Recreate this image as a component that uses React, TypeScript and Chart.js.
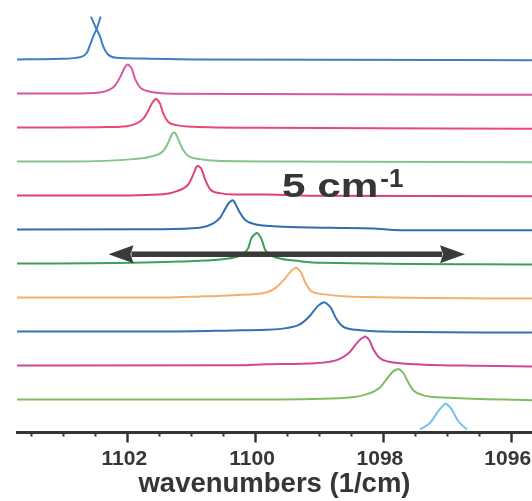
import React, { useEffect, useRef } from "react";
import { Chart, registerables } from "chart.js";

Chart.register(...registerables);

// ---- axis data ----
const X_MIN = 1095.667;
const X_MAX = 1103.726;
const majorTicks = [1096, 1098, 1100, 1102];
const minorTicks = [1096.5, 1097, 1097.5, 1098.5, 1099, 1099.5, 1100.5, 1101, 1101.5, 1102.5, 1103, 1103.5];
const axisTitle = "wavenumbers (1/cm)";

// ---- stacked spectra: [wavenumber, intensity above own baseline] ----
const offsets = [11, 10, 9, 8, 7, 6, 5, 4, 3, 2, 1, 0];

const trace1a = [[1103.726, 0], [1103.05, 0.02], [1102.74, 0.07], [1102.635, 0.19], [1102.573, 0.48], [1102.521, 0.73], [1102.482, 0.89], [1102.416, 1.26]];
const trace1b = [[1102.568, 1.26], [1102.482, 0.89], [1102.427, 0.68], [1102.376, 0.38], [1102.297, 0.14], [1102.166, 0.05], [1101.8, 0.03], [1100.862, 0], [1095.667, -0.02]];
const trace2 = [[1103.726, 0], [1102.9, 0], [1102.43, 0.03], [1102.27, 0.12], [1102.19, 0.24], [1102.11, 0.49], [1102.05, 0.73], [1102.019, 0.82], [1101.994, 0.85], [1101.969, 0.82], [1101.93, 0.73], [1101.88, 0.44], [1101.8, 0.18], [1101.7, 0.08], [1101.54, 0.02], [1101.28, -0.01], [1095.667, -0.04]];
const trace3 = [[1103.726, 0], [1103.05, 0], [1102.43, 0.01], [1102.009, 0.04], [1101.853, 0.12], [1101.75, 0.26], [1101.671, 0.5], [1101.618, 0.7], [1101.576, 0.81], [1101.551, 0.84], [1101.526, 0.81], [1101.488, 0.7], [1101.437, 0.41], [1101.358, 0.16], [1101.227, 0.07], [1100.967, 0.02], [1099.9, -0.01], [1095.667, -0.04]];
const trace4 = [[1103.726, 0], [1102.9, 0], [1101.906, 0.07], [1101.593, 0.16], [1101.437, 0.31], [1101.358, 0.56], [1101.316, 0.75], [1101.294, 0.82], [1101.269, 0.85], [1101.244, 0.82], [1101.202, 0.65], [1101.133, 0.36], [1101.045, 0.16], [1100.862, 0.07], [1100.601, 0.02], [1099.7, 0], [1095.667, -0.02]];
const trace5 = [[1103.726, 0], [1102.4, 0], [1101.431, 0.04], [1101.222, 0.13], [1101.045, 0.33], [1100.977, 0.58], [1100.936, 0.77], [1100.919, 0.84], [1100.894, 0.87], [1100.869, 0.84], [1100.836, 0.77], [1100.784, 0.48], [1100.706, 0.19], [1100.549, 0.07], [1100.346, 0.03], [1099.83, 0.03], [1099.0, -0.01], [1095.667, -0.02]];
const trace6 = [[1103.726, 0], [1101.5, 0.01], [1100.862, 0.05], [1100.654, 0.18], [1100.549, 0.34], [1100.473, 0.59], [1100.419, 0.76], [1100.382, 0.83], [1100.357, 0.86], [1100.332, 0.83], [1100.315, 0.78], [1100.237, 0.49], [1100.159, 0.29], [1100.028, 0.17], [1099.767, 0.1], [1099.349, 0.07], [1098.828, 0.05], [1098.155, 0.03], [1097.73, -0.02], [1095.667, -0.02]];
const trace7 = [[1103.726, 0], [1101.931, 0.02], [1101.175, 0.06], [1100.549, 0.12], [1100.288, 0.2], [1100.174, 0.3], [1100.106, 0.46], [1100.064, 0.72], [1100.0, 0.87], [1099.975, 0.9], [1099.95, 0.87], [1099.897, 0.7], [1099.845, 0.41], [1099.767, 0.26], [1099.662, 0.17], [1099.297, 0.07], [1098.937, 0.02], [1095.667, -0.03]];
const trace8 = [[1103.726, 0], [1101.383, 0], [1100.862, 0.03], [1100.341, 0.07], [1099.829, 0.15], [1099.673, 0.29], [1099.516, 0.59], [1099.438, 0.78], [1099.385, 0.85], [1099.36, 0.88], [1099.335, 0.85], [1099.282, 0.74], [1099.214, 0.44], [1099.125, 0.19], [1098.942, 0.1], [1098.473, 0.02], [1095.667, -0.03]];
const trace9 = [[1103.726, 0], [1101.383, 0], [1100.346, 0.03], [1099.829, 0.05], [1099.516, 0.1], [1099.308, 0.2], [1099.152, 0.44], [1099.047, 0.69], [1098.984, 0.8], [1098.942, 0.845], [1098.917, 0.86], [1098.892, 0.84], [1098.812, 0.69], [1098.734, 0.39], [1098.629, 0.15], [1098.421, 0.05], [1098.003, 0], [1095.667, -0.03]];
const trace10 = [[1103.726, 0], [1100.236, 0.01], [1099.829, 0.04], [1099.047, 0.07], [1098.682, 0.19], [1098.526, 0.38], [1098.421, 0.63], [1098.343, 0.79], [1098.305, 0.83], [1098.28, 0.85], [1098.255, 0.83], [1098.213, 0.75], [1098.15, 0.48], [1098.056, 0.23], [1097.9, 0.11], [1097.482, 0.04], [1096.5, -0.01], [1095.667, -0.03]];
const trace11 = [[1103.726, 0], [1099.829, 0], [1098.577, 0.05], [1098.264, 0.15], [1098.056, 0.34], [1097.925, 0.64], [1097.847, 0.82], [1097.784, 0.885], [1097.759, 0.9], [1097.734, 0.88], [1097.681, 0.78], [1097.612, 0.54], [1097.534, 0.29], [1097.377, 0.13], [1096.961, 0.05], [1095.667, -0.02]];
const trace12 = [[1097.42, 0.12], [1097.264, 0.31], [1097.133, 0.66], [1097.042, 0.85], [1097.017, 0.88], [1096.992, 0.85], [1096.923, 0.71], [1096.82, 0.36], [1096.684, 0.12]];

const traces = [trace1a, trace2, trace3, trace4, trace5, trace6, trace7, trace8, trace9, trace10, trace11, trace12];
const colors = ["#3b7fc4", "#d8589f", "#e94a72", "#86c487", "#e0407c", "#2f6db3", "#3c9f5a", "#f5ae6b", "#3471b6", "#cd4893", "#80bd62", "#76c5e9"];

// annotation (data coordinates)
const arrowFrom = 1102.294;
const arrowTo = 1096.715;
const arrowY = 5.273;
const shiftLabel = "5 cm";
const shiftSup = "-1";
const shiftLabelX = 1099.579;
const shiftLabelY = 6.953;

const FONT = "'Liberation Sans', Arial, Helvetica, sans-serif";
const INK = "#363636";

const annotationPlugin = {
  id: "annot",
  afterDatasetsDraw(chart: any) {
    const { ctx, scales, chartArea } = chart;
    const xs = scales.x;
    const ys = scales.y;
    ctx.save();
    // tick marks
    ctx.strokeStyle = INK;
    const bottom = chartArea.bottom;
    majorTicks.forEach((v) => {
      const px = Math.round(xs.getPixelForValue(v)) + 0.5;
      ctx.lineWidth = 2.5;
      ctx.beginPath();
      ctx.moveTo(px, bottom);
      ctx.lineTo(px, bottom + 10);
      ctx.stroke();
    });
    minorTicks.forEach((v) => {
      const px = Math.round(xs.getPixelForValue(v)) + 0.5;
      ctx.lineWidth = 2;
      ctx.beginPath();
      ctx.moveTo(px, bottom);
      ctx.lineTo(px, bottom + 4);
      ctx.stroke();
    });

    // double arrow
    const x1 = xs.getPixelForValue(arrowFrom);
    const x2 = xs.getPixelForValue(arrowTo);
    const y = ys.getPixelForValue(arrowY);
    const headL = 25;
    const headH = 9;
    ctx.fillStyle = "#3a3a3a";
    ctx.fillRect(x1 + headL - 2, y - 2.75, x2 - x1 - 2 * headL + 4, 5.5);
    ctx.beginPath();
    ctx.moveTo(x1, y);
    ctx.lineTo(x1 + headL, y - headH);
    ctx.lineTo(x1 + headL - 3, y);
    ctx.lineTo(x1 + headL, y + headH);
    ctx.closePath();
    ctx.fill();
    ctx.beginPath();
    ctx.moveTo(x2, y);
    ctx.lineTo(x2 - headL, y - headH);
    ctx.lineTo(x2 - headL + 3, y);
    ctx.lineTo(x2 - headL, y + headH);
    ctx.closePath();
    ctx.fill();

    // "5 cm-1" label
    const tx = xs.getPixelForValue(shiftLabelX);
    const ty = ys.getPixelForValue(shiftLabelY);
    ctx.fillStyle = INK;
    ctx.textBaseline = "alphabetic";
    ctx.textAlign = "left";
    ctx.save();
    ctx.translate(tx, ty);
    ctx.scale(1.28, 1);
    ctx.font = `bold 33px ${FONT}`;
    ctx.fillText(shiftLabel, 0, 0);
    const w = ctx.measureText(shiftLabel).width * 1.28;
    ctx.restore();
    ctx.font = `bold 26px ${FONT}`;
    ctx.fillText(shiftSup, tx + w + 2, ty - 10.5);
    ctx.restore();
  },
};

export default function App() {
  const ref = useRef<HTMLCanvasElement | null>(null);
  useEffect(() => {
    if (!ref.current) return;
    const datasets: any[] = traces.map((tr, i) => ({
      data: tr.map(([v, h]) => ({ x: v, y: h + offsets[i] })),
      borderColor: colors[i],
      borderWidth: 2,
      pointRadius: 0,
      fill: false,
      cubicInterpolationMode: "monotone",
    }));
    datasets.push({
      data: trace1b.map(([v, h]) => ({ x: v, y: h + offsets[0] })),
      borderColor: colors[0],
      borderWidth: 2,
      pointRadius: 0,
      fill: false,
      cubicInterpolationMode: "monotone",
    });
    const chart = new Chart(ref.current, {
      type: "line",
      data: { datasets },
      options: {
        animation: false,
        responsive: false,
        devicePixelRatio: 1,
        layout: { padding: { left: 17, right: 0, top: 0, bottom: 3 } },
        plugins: { legend: { display: false }, tooltip: { enabled: false } },
        scales: {
          x: {
            type: "linear",
            reverse: true,
            min: X_MIN,
            max: X_MAX,
            afterBuildTicks: (axis: any) => {
              const vals = [X_MIN, ...majorTicks, ...minorTicks, X_MAX].sort((a, b) => a - b);
              axis.ticks = vals.map((v) => ({ value: v }));
            },
            ticks: {
              autoSkip: false,
              maxRotation: 0,
              minRotation: 0,
              padding: 0,
              labelOffset: -3,
              color: INK,
              font: { family: FONT, size: 21, weight: "bold", lineHeight: 1 },
              callback: (value: any) => (majorTicks.includes(value) ? String(value) : ""),
            },
            grid: {
              display: true,
              drawOnChartArea: false,
              drawTicks: true,
              tickLength: 16,
              tickColor: "rgba(0,0,0,0)",
            },
            border: { display: true, color: INK, width: 3 },
            title: {
              display: true,
              text: axisTitle,
              color: INK,
              font: { family: FONT, size: 27.5, weight: "bold", lineHeight: 1 },
              padding: { top: 1, bottom: 0 },
            },
          },
          y: {
            type: "linear",
            display: false,
            min: 0.03,
            max: 12.75,
          },
        },
      },
      plugins: [annotationPlugin],
    });
    return () => chart.destroy();
  }, []);
  return (
    <div style={{ position: "fixed", left: 0, top: 0, width: 532, height: 501, background: "#fff" }}>
      <canvas ref={ref} width={532} height={501} style={{ display: "block" }} />
    </div>
  );
}
